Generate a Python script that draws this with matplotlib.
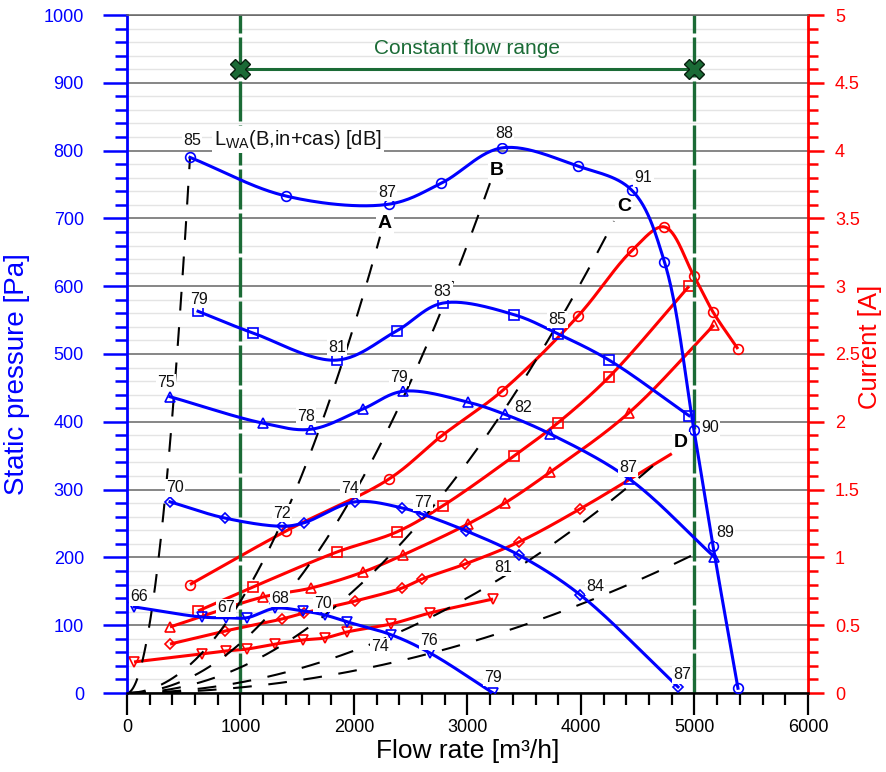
import numpy as np
import matplotlib
matplotlib.use("Agg")
import matplotlib.pyplot as plt
from matplotlib.ticker import MultipleLocator, FuncFormatter

plt.rcParams['font.family'] = ['Liberation Sans', 'DejaVu Sans']

# ---------------- data ----------------
# speed curves: flow [m3/h], static pressure [Pa], current [A]
q_o = [555, 1401, 2308, 2770, 3304, 3974, 4445, 4735, 4995, 5163, 5383]
p_o = [790, 733, 721, 752, 804, 777, 742, 636, 388, 217, 7]
i_o = [0.80, 1.195, 1.578, 1.895, 2.227, 2.78, 3.26, 3.437, 3.075, 2.81, 2.537]

q_s = [626, 1110, 1850, 2375, 2780, 3410, 3793, 4247, 4952]
p_s = [563, 531, 491, 534, 575, 558, 530, 491, 409]
i_s = [0.605, 0.782, 1.04, 1.187, 1.379, 1.748, 1.99, 2.33, 3.0]

q_t = [379, 1198, 1621, 2079, 2432, 3004, 3330, 3730, 4423, 5172]
p_t = [437, 398, 389, 419, 445, 429, 411, 382, 316, 201]
i_t = [0.487, 0.708, 0.774, 0.892, 1.018, 1.246, 1.401, 1.63, 2.067, 2.714]

q_d = [379, 863, 1366, 1559, 2009, 2423, 2599, 2990, 3458, 3991, 4855]
p_d = [282, 258, 246, 251, 282, 273, 264, 239, 203, 145, 9]
q_d_cur = [379, 863, 1366, 1559, 2009, 2423, 2599, 2978, 3454, 3991, 4800]
i_d = [0.361, 0.457, 0.546, 0.59, 0.678, 0.774, 0.84, 0.951, 1.114, 1.357, 1.765]

q_v = [62, 661, 872, 1057, 1304, 1551, 1744, 1938, 2326, 2670, 3225]
p_v = [127, 112, 111, 111, 125, 121, 115, 105, 86, 59, 0]
i_v = [0.229, 0.288, 0.31, 0.324, 0.361, 0.391, 0.406, 0.45, 0.509, 0.59, 0.693]

# LwA labels: (point index, text)
lwa_o = [(0, '85'), (2, '87'), (4, '88'), (6, '91'), (8, '90'), (9, '89')]
lwa_s = [(0, '79'), (2, '81'), (4, '83'), (6, '85')]
lwa_t = [(0, '75'), (2, '78'), (4, '79'), (6, '82'), (8, '87')]
lwa_d = [(0, '70'), (2, '72'), (4, '74'), (6, '77'), (8, '81'), (9, '84'), (10, '87')]
lwa_v = [(0, '66'), (2, '67'), (4, '68'), (6, '70'), (8, '74'), (9, '76'), (10, '79')]

# system (dashed) curves: end flow, end pressure, name
sys_q_end = [555, 2229, 3198, 4290, 4696, 4978]
sys_p_end = [790, 673, 752, 696, 344, 203]
sys_names = ['', 'A', 'B', 'C', 'D', '']
sys_name_q = [0, 2273, 3260, 4379, 4881, 0]
sys_name_p = [0, 693, 771, 717, 369, 0]

flow_range = [1000, 5000]
flow_range_p = 920
flow_range_text = 'Constant flow range'

# ---------------- style ----------------
BLUE = '#0000ff'
RED = '#ff0000'
GREEN = '#1b6b36'


def smooth(x, y, xs, ys, n=30):
    P = np.column_stack([np.asarray(x, float) / xs, np.asarray(y, float) / ys])
    if len(P) < 3:
        return np.asarray(x, float), np.asarray(y, float)
    P = np.vstack([2 * P[0] - P[1], P, 2 * P[-1] - P[-2]])
    out = []
    for k in range(1, len(P) - 2):
        p0, p1, p2, p3 = P[k - 1], P[k], P[k + 1], P[k + 2]
        t0 = 0.0
        t1 = t0 + max(np.linalg.norm(p1 - p0), 1e-9) ** 0.5
        t2 = t1 + max(np.linalg.norm(p2 - p1), 1e-9) ** 0.5
        t3 = t2 + max(np.linalg.norm(p3 - p2), 1e-9) ** 0.5
        t = np.linspace(t1, t2, n)[:, None]
        A1 = (t1 - t) / (t1 - t0) * p0 + (t - t0) / (t1 - t0) * p1
        A2 = (t2 - t) / (t2 - t1) * p1 + (t - t1) / (t2 - t1) * p2
        A3 = (t3 - t) / (t3 - t2) * p2 + (t - t2) / (t3 - t2) * p3
        B1 = (t2 - t) / (t2 - t0) * A1 + (t - t0) / (t2 - t0) * A2
        B2 = (t3 - t) / (t3 - t1) * A2 + (t - t1) / (t3 - t1) * A3
        C = (t2 - t) / (t2 - t1) * B1 + (t - t1) / (t2 - t1) * B2
        out.append(C if k == 1 else C[1:])
    C = np.vstack(out)
    return C[:, 0] * xs, C[:, 1] * ys


fig = plt.figure(figsize=(8.87, 7.72), dpi=100)
ax = fig.add_axes([127 / 887, 79 / 772, 681 / 887, 678 / 772])
ax2 = ax.twinx()
ax.set_zorder(2)
ax2.set_zorder(1)
ax.patch.set_visible(False)

ax.set_xlim(0, 6000)
ax.set_ylim(0, 1000)
ax2.set_ylim(0, 5)

# grid on the lower axes
ax2.xaxis.set_major_locator(MultipleLocator(1000))
ax2.xaxis.set_minor_locator(MultipleLocator(200))
ax2.yaxis.set_major_locator(MultipleLocator(0.5))
ax2.yaxis.set_minor_locator(MultipleLocator(0.1))
ax2.grid(which='minor', color='#e4e4e4', lw=1.0, zorder=0)
ax2.grid(which='major', axis='y', color='#666666', lw=1.1, zorder=0.5)
ax2.grid(which='major', axis='x', color='#333333', lw=0.8, zorder=0.5)
ax2.set_axisbelow(True)

# red current curves
for q, i, m, last_marker in [(q_o, i_o, 'o', True), (q_s, i_s, 's', True),
                             (q_t, i_t, '^', True), (q_d_cur, i_d, 'D', False),
                             (q_v, i_v, 'v', True)]:
    xs_, ys_ = smooth(q, i, 6000, 5)
    ax2.plot(xs_, ys_, color=RED, lw=2.2, zorder=3, solid_capstyle='butt')
    qm = q if last_marker else q[:-1]
    im = i if last_marker else i[:-1]
    ax2.plot(qm, im, ls='none', marker=m, ms=7 if m != 'D' else 5,
             mfc='none', mec=RED, mew=1.2, zorder=4)

# green constant flow range
for qf in flow_range:
    ax.axvline(qf, color=GREEN, lw=2.4, ls=(0, (12, 1.2)), zorder=2)
ax.plot(flow_range, [flow_range_p] * 2, color=GREEN, lw=2.2, zorder=3)
ax.plot(flow_range, [flow_range_p] * 2, ls='none', marker='X', ms=15,
        mfc=GREEN, mec='#08200f', mew=1.0, zorder=4)
ax.text(sum(flow_range) / 2, 951, flow_range_text, color=GREEN, fontsize=15,
        ha='center', va='center', zorder=5)

# system (dashed) curves
for qe, pe, nm, nq, npp in zip(sys_q_end, sys_p_end, sys_names, sys_name_q, sys_name_p):
    qq = np.linspace(0, qe, 200)
    ax.plot(qq, pe * (qq / qe) ** 2, color='black', lw=1.5,
            ls=(0, (9, 8)), zorder=2.5)
    if nm:
        ax.text(nq, npp, nm, fontsize=14, fontweight='bold', ha='center',
                va='center', zorder=8,
                bbox=dict(boxstyle='square,pad=0.1', fc='white', ec='none'))

# blue pressure curves
for q, p, m in [(q_o, p_o, 'o'), (q_s, p_s, 's'), (q_t, p_t, '^'),
                (q_d, p_d, 'D'), (q_v, p_v, 'v')]:
    xs_, ys_ = smooth(q, p, 6000, 1000)
    ax.plot(xs_, ys_, color=BLUE, lw=2.2, zorder=6)
    ax.plot(q, p, ls='none', marker=m, ms=7 if m != 'D' else 5,
            mfc='none', mec=BLUE, mew=1.2, zorder=7)

# LwA labels (offsets in pixels)
offs = {
    'o': [(2, 17), (-2, 12), (2, 14), (12, 12), (16, 2), (12, 13)],
    's': [(1, 12), (0, 13), (0, 12), (0, 14)],
    't': [(-4, 14), (-5, 13), (-4, 14), (18, 7), (-1, 11)],
    'd': [(5, 14), (0, 13), (-5, 13), (1, 12), (-16, -12), (15, 8), (4, 12)],
    'v': [(5, 10), (0, 10), (5, 10), (-2, 12), (-11, -12), (-1, 12), (0, 16)],
}
for key, q, p, labs in [('o', q_o, p_o, lwa_o), ('s', q_s, p_s, lwa_s),
                        ('t', q_t, p_t, lwa_t), ('d', q_d, p_d, lwa_d),
                        ('v', q_v, p_v, lwa_v)]:
    for (idx, txt), (dx, dy) in zip(labs, offs[key]):
        ax.annotate(txt, (q[idx], p[idx]), xytext=(dx, dy),
                    textcoords='offset pixels', ha='center', va='center',
                    fontsize=11.5, color='#111111', zorder=9,
                    bbox=dict(boxstyle='square,pad=0.08', fc='white', ec='none'))

ax.text(767, 816, r'L$\mathregular{_{WA}}$(B,in+cas) [dB]', fontsize=14.5,
        ha='left', va='center', color='#111111', zorder=9,
        bbox=dict(boxstyle='square,pad=0.1', fc='white', ec='none'))

# ---------------- axes / ticks ----------------
ax.xaxis.set_major_locator(MultipleLocator(1000))
ax.xaxis.set_minor_locator(MultipleLocator(200))
ax.yaxis.set_major_locator(MultipleLocator(100))
ax.yaxis.set_minor_locator(MultipleLocator(20))

ax.tick_params(axis='y', which='major', direction='out', length=17, width=1.8,
               color=BLUE, labelcolor=BLUE, labelsize=13, pad=14)
ax.tick_params(axis='y', which='minor', direction='out', length=8.5, width=1.8,
               color=BLUE)
ax.tick_params(axis='x', which='major', direction='out', length=16, width=1.6,
               color='black', labelsize=13, pad=3)
ax.tick_params(axis='x', which='minor', direction='out', length=8.5, width=1.6,
               color='black')
ax2.tick_params(axis='y', which='major', direction='out', length=11.5, width=1.8,
                color=RED, labelcolor=RED, labelsize=13, pad=8)
ax2.tick_params(axis='y', which='minor', direction='out', length=7, width=1.8,
                color=RED)
ax2.tick_params(axis='x', which='both', bottom=False, labelbottom=False)
ax2.yaxis.set_major_formatter(FuncFormatter(lambda v, _: f'{v:g}'))

for s in ['left', 'right', 'top', 'bottom']:
    ax2.spines[s].set_visible(False)
ax.spines['left'].set_color(BLUE)
ax.spines['left'].set_linewidth(2.0)
ax.spines['bottom'].set_color('black')
ax.spines['bottom'].set_linewidth(1.8)
ax.spines['right'].set_color(RED)
ax.spines['right'].set_linewidth(2.0)
ax.spines['top'].set_color('#666666')
ax.spines['top'].set_linewidth(1.1)

ax.set_xlabel('Flow rate [m³/h]', fontsize=19)
ax.xaxis.set_label_coords(0.5, -0.068)
ax.set_ylabel('Static pressure [Pa]', fontsize=20, color=BLUE)
ax.yaxis.set_label_coords(-0.142, 0.47)
ax2.set_ylabel('Current [A]', fontsize=18.5, color=RED, rotation=90)
ax2.yaxis.set_label_coords(1.074, 0.51)

fig.savefig('out.png', dpi=100)
